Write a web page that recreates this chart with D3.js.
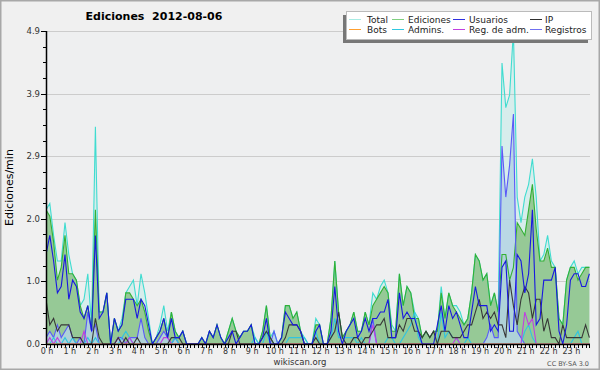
<!DOCTYPE html>
<html>
<head>
<meta charset="utf-8">
<script src="https://cdn.jsdelivr.net/npm/d3@7"></script>
<style>
  body { margin: 0; background: #fff; }
  text { font-family: "DejaVu Sans", sans-serif; }
</style>
</head>
<body>
<div id="chart"></div>
<script>
// edits per minute, one value every 10 minutes (144 per day)
var total = [
  2.1, 2.2, 1.7, 1.3, 1.3, 1.9,  1.4, 1.1, 1.0, 0.6, 0.7, 1.1,
  0.3, 3.4, 0.5, 0.5, 0.8, 0.0,  0.4, 0.2, 0.4, 0.8, 0.9, 1.0,
  0.6, 1.1, 0.8, 0.4, 0.0, 0.1,  0.3, 0.6, 0.2, 0.5, 0.2, 0.1,
  0.2, 0.0, 0.0, 0.0, 0.0, 0.1,  0.0, 0.2, 0.1, 0.3, 0.1, 0.0,
  0.2, 0.4, 0.2, 0.1, 0.2, 0.2,  0.3, 0.1, 0.0, 0.2, 0.6, 0.1,
  0.2, 0.0, 0.1, 0.6, 0.6, 0.4,  0.5, 0.2, 0.1, 0.0, 0.0, 0.4,
  0.3, 0.0, 0.0, 0.4, 1.3, 0.5,  0.1, 0.2, 0.3, 0.5, 0.2, 0.2,
  0.5, 0.3, 0.8, 0.7, 0.9, 1.0,  0.8, 0.3, 0.2, 1.1, 0.6, 0.9,
  0.8, 0.5, 0.4, 0.1, 0.2, 0.1,  0.2, 0.2, 0.9, 0.4, 0.8, 0.6,
  0.6, 0.5, 0.3, 0.4, 0.8, 1.4,  1.3, 1.0, 1.1, 0.6, 0.8, 0.5,
  4.4, 3.7, 3.9, 4.9, 2.3, 1.9,  2.3, 2.5, 2.9, 2.3, 1.3, 1.4,
  1.7, 1.3, 1.2, 0.4, 0.3, 1.0,  1.2, 1.3, 1.1, 1.2, 1.2, 1.2
];
var ediciones = [
  2.1, 2.0, 1.6, 1.0, 1.2, 1.7,  1.1, 1.1, 1.0, 0.6, 0.4, 0.6,
  0.2, 2.1, 0.5, 0.5, 0.8, 0.0,  0.4, 0.2, 0.3, 0.8, 0.8, 0.7,
  0.6, 0.7, 0.5, 0.2, 0.0, 0.1,  0.2, 0.4, 0.1, 0.5, 0.2, 0.1,
  0.2, 0.0, 0.0, 0.0, 0.0, 0.1,  0.0, 0.2, 0.1, 0.3, 0.1, 0.0,
  0.2, 0.4, 0.2, 0.1, 0.2, 0.2,  0.3, 0.0, 0.0, 0.2, 0.6, 0.1,
  0.0, 0.0, 0.1, 0.6, 0.6, 0.4,  0.5, 0.2, 0.0, 0.0, 0.0, 0.3,
  0.3, 0.0, 0.0, 0.4, 1.3, 0.5,  0.1, 0.2, 0.3, 0.5, 0.2, 0.2,
  0.5, 0.3, 0.6, 0.7, 0.8, 0.9,  0.8, 0.2, 0.2, 1.1, 0.6, 0.9,
  0.8, 0.4, 0.4, 0.1, 0.2, 0.1,  0.2, 0.2, 0.8, 0.4, 0.8, 0.6,
  0.5, 0.4, 0.3, 0.4, 0.8, 1.4,  1.3, 1.0, 1.1, 0.6, 0.8, 0.5,
  1.4, 1.4, 1.0, 1.2, 1.9, 1.8,  1.7, 2.1, 2.5, 1.8, 1.3, 1.3,
  1.5, 1.2, 1.2, 0.4, 0.3, 1.0,  1.2, 1.2, 1.0, 1.1, 1.2, 1.2
];
var usuarios = [
  1.4, 1.7, 1.3, 0.8, 0.9, 1.4,  0.7, 1.0, 0.9, 0.5, 0.4, 0.6,
  0.2, 1.7, 0.4, 0.5, 0.8, 0.0,  0.4, 0.2, 0.3, 0.7, 0.7, 0.7,
  0.4, 0.7, 0.6, 0.3, 0.0, 0.1,  0.2, 0.4, 0.1, 0.4, 0.1, 0.1,
  0.2, 0.0, 0.0, 0.0, 0.0, 0.1,  0.0, 0.2, 0.1, 0.3, 0.1, 0.0,
  0.1, 0.2, 0.0, 0.1, 0.2, 0.2,  0.3, 0.0, 0.0, 0.1, 0.4, 0.0,
  0.0, 0.0, 0.1, 0.5, 0.4, 0.3,  0.3, 0.2, 0.0, 0.0, 0.0, 0.2,
  0.3, 0.0, 0.0, 0.2, 0.9, 0.2,  0.0, 0.2, 0.3, 0.4, 0.1, 0.2,
  0.4, 0.2, 0.4, 0.4, 0.5, 0.5,  0.7, 0.1, 0.1, 0.8, 0.4, 0.5,
  0.4, 0.4, 0.2, 0.0, 0.0, 0.0,  0.0, 0.3, 0.6, 0.2, 0.6, 0.4,
  0.5, 0.3, 0.1, 0.1, 0.5, 0.9,  0.6, 0.6, 0.6, 0.2, 0.3, 0.2,
  1.2, 1.3, 0.2, 0.2, 1.4, 1.3,  0.8, 1.1, 2.1, 0.3, 0.4, 1.0,
  1.0, 1.0, 1.2, 0.2, 0.0, 0.3,  1.0, 1.1, 1.1, 0.9, 0.9, 1.1
];
var ip = [
  0.7, 0.3, 0.4, 0.2, 0.3, 0.3,  0.3, 0.1, 0.1, 0.1, 0.0, 0.0,
  0.0, 0.4, 0.1, 0.0, 0.0, 0.0,  0.0, 0.1, 0.0, 0.1, 0.0, 0.0,
  0.1, 0.0, 0.0, 0.0, 0.0, 0.0,  0.0, 0.0, 0.0, 0.1, 0.1, 0.1,
  0.0, 0.0, 0.0, 0.0, 0.0, 0.0,  0.0, 0.0, 0.0, 0.0, 0.0, 0.0,
  0.0, 0.2, 0.2, 0.0, 0.0, 0.0,  0.0, 0.0, 0.0, 0.1, 0.2, 0.1,
  0.0, 0.0, 0.0, 0.1, 0.3, 0.3,  0.3, 0.2, 0.0, 0.0, 0.0, 0.1,
  0.0, 0.0, 0.0, 0.1, 0.2, 0.5,  0.1, 0.0, 0.0, 0.1, 0.1, 0.0,
  0.1, 0.1, 0.2, 0.3, 0.3, 0.4,  0.1, 0.1, 0.1, 0.3, 0.2, 0.4,
  0.4, 0.2, 0.2, 0.1, 0.2, 0.1,  0.2, 0.0, 0.2, 0.2, 0.2, 0.1,
  0.1, 0.1, 0.2, 0.3, 0.3, 0.5,  0.7, 0.4, 0.5, 0.4, 0.5, 0.3,
  0.3, 0.1, 1.0, 0.6, 0.3, 0.7,  0.9, 0.8, 0.4, 0.7, 0.7, 0.2,
  0.4, 0.1, 0.1, 0.0, 0.3, 0.1,  0.1, 0.1, 0.1, 0.1, 0.3, 0.1
];
var registros = [
  0.1, 0.2, 0.1, 0.3, 0.1, 0.2,  0.3, 0.1, 0.0, 0.1, 0.0, 0.5,
  0.2, 0.3, 0.0, 0.0, 0.0, 0.0,  0.0, 0.1, 0.1, 0.0, 0.1, 0.1,
  0.1, 0.4, 0.1, 0.0, 0.0, 0.0,  0.1, 0.2, 0.1, 0.0, 0.1, 0.0,
  0.0, 0.0, 0.0, 0.0, 0.0, 0.0,  0.0, 0.0, 0.0, 0.0, 0.0, 0.0,
  0.0, 0.0, 0.0, 0.0, 0.0, 0.0,  0.0, 0.0, 0.0, 0.0, 0.0, 0.0,
  0.2, 0.0, 0.0, 0.0, 0.0, 0.0,  0.0, 0.0, 0.0, 0.0, 0.0, 0.0,
  0.0, 0.0, 0.0, 0.0, 0.0, 0.0,  0.0, 0.0, 0.0, 0.0, 0.0, 0.0,
  0.0, 0.0, 0.4, 0.0, 0.0, 0.0,  0.0, 0.0, 0.0, 0.0, 0.0, 0.0,
  0.0, 0.0, 0.0, 0.0, 0.0, 0.0,  0.0, 0.0, 0.0, 0.0, 0.0, 0.0,
  0.0, 0.0, 0.0, 0.0, 0.0, 0.0,  0.0, 0.0, 0.1, 0.3, 0.1, 0.1,
  3.1, 2.3, 2.8, 3.6, 0.2, 0.1,  0.0, 0.0, 0.0, 0.0, 0.0, 0.0,
  0.0, 0.0, 0.0, 0.0, 0.0, 0.0,  0.0, 0.0, 0.0, 0.0, 0.0, 0.0
];
var admins = [
  0.0, 0.0, 0.1, 0.0, 0.0, 0.1,  0.0, 0.1, 0.0, 0.0, 0.0, 0.1,
  0.0, 0.1, 0.0, 0.0, 0.0, 0.0,  0.0, 0.0, 0.1, 0.2, 0.1, 0.0,
  0.0, 0.0, 0.0, 0.0, 0.0, 0.0,  0.0, 0.0, 0.0, 0.0, 0.1, 0.0,
  0.0, 0.0, 0.0, 0.0, 0.0, 0.0,  0.0, 0.0, 0.0, 0.0, 0.0, 0.0,
  0.0, 0.0, 0.0, 0.0, 0.0, 0.0,  0.0, 0.1, 0.0, 0.0, 0.2, 0.0,
  0.0, 0.0, 0.0, 0.0, 0.1, 0.1,  0.1, 0.1, 0.1, 0.0, 0.0, 0.2,
  0.0, 0.0, 0.0, 0.1, 0.4, 0.1,  0.1, 0.1, 0.1, 0.1, 0.0, 0.1,
  0.0, 0.0, 0.0, 0.0, 0.0, 0.0,  0.1, 0.1, 0.0, 0.0, 0.1, 0.2,
  0.3, 0.5, 0.1, 0.0, 0.0, 0.0,  0.0, 0.0, 0.5, 0.1, 0.2, 0.1,
  0.1, 0.0, 0.0, 0.1, 0.0, 0.0,  0.0, 0.0, 0.0, 0.0, 0.0, 0.0,
  0.0, 0.0, 0.0, 0.0, 0.0, 0.0,  0.2, 0.3, 0.1, 0.0, 0.0, 0.0,
  0.0, 0.0, 0.0, 0.0, 0.0, 0.0,  0.0, 0.1, 0.2, 0.0, 0.0, 0.0
];
var regAdm = [
  0.0, 0.1, 0.0, 0.1, 0.0, 0.0,  0.0, 0.0, 0.0, 0.0, 0.2, 0.0,
  0.0, 0.0, 0.0, 0.0, 0.0, 0.0,  0.0, 0.1, 0.0, 0.0, 0.1, 0.0,
  0.0, 0.0, 0.0, 0.0, 0.0, 0.0,  0.0, 0.1, 0.1, 0.0, 0.0, 0.0,
  0.0, 0.0, 0.0, 0.0, 0.0, 0.0,  0.0, 0.0, 0.0, 0.0, 0.0, 0.0,
  0.0, 0.0, 0.0, 0.0, 0.0, 0.0,  0.0, 0.0, 0.0, 0.0, 0.0, 0.0,
  0.0, 0.0, 0.0, 0.0, 0.0, 0.0,  0.0, 0.0, 0.0, 0.0, 0.0, 0.0,
  0.0, 0.0, 0.0, 0.0, 0.0, 0.0,  0.0, 0.0, 0.0, 0.0, 0.0, 0.0,
  0.0, 0.0, 0.3, 0.0, 0.0, 0.0,  0.0, 0.0, 0.0, 0.0, 0.0, 0.0,
  0.0, 0.0, 0.0, 0.0, 0.0, 0.0,  0.0, 0.0, 0.0, 0.0, 0.0, 0.0,
  0.1, 0.0, 0.0, 0.0, 0.0, 0.0,  0.0, 0.0, 0.0, 0.0, 0.0, 0.0,
  0.0, 0.0, 0.0, 0.0, 0.0, 0.0,  0.5, 0.3, 0.4, 0.0, 0.0, 0.0,
  0.0, 0.0, 0.0, 0.0, 0.0, 0.0,  0.0, 0.0, 0.0, 0.0, 0.0, 0.0
];
var bots = d3.range(144).map(function () { return 0; }); // flat all day

var hourLabels = ["0 h", "1 h", "2 h", "3 h", "4 h", "5 h", "6 h", "7 h", "8 h", "9 h", "10 h", "11 h",
  "12 h", "13 h", "14 h", "15 h", "16 h", "17 h", "18 h", "19 h", "20 h", "21 h", "22 h", "23 h"];
var yMax = 4.9;

var width = 600, height = 370;
var pLeft = 46, pRight = 590, pTop = 31, pBottom = 344;

var svg = d3.select("#chart")
    .append("svg")
    .attr("width", width)
    .attr("height", height);

// frame
svg.append("rect")
    .attr("x", 0.75).attr("y", 0.75)
    .attr("width", width - 1.5).attr("height", height - 1.5)
    .style("fill", "#f0f0f0")
    .style("stroke", "#a8a8a8")
    .style("stroke-width", 1.5);

svg.append("rect")
    .attr("x", pLeft).attr("y", pTop)
    .attr("width", pRight - pLeft).attr("height", pBottom - pTop)
    .style("fill", "#eeeff0");

var x = d3.scaleLinear().domain([0, 143]).range([pLeft, pLeft + 143 * 3.8]);
var y = d3.scaleLinear().domain([0, yMax]).range([pBottom, pTop]);

var majors = d3.range(6).map(function (k) { return yMax * k / 5; });
var minors = d3.range(21).map(function (k) { return yMax * k / 20; });

// grid
svg.append("g").selectAll("line")
    .data(majors.slice(1))
    .enter().append("line")
    .attr("x1", pLeft).attr("x2", pRight)
    .attr("y1", function (d) { return Math.round(y(d)) + 0.5; })
    .attr("y2", function (d) { return Math.round(y(d)) + 0.5; })
    .style("stroke", "#cccccc");

svg.append("defs").append("clipPath").attr("id", "plot")
    .append("rect").attr("x", pLeft).attr("y", pTop - 1)
    .attr("width", pRight - pLeft).attr("height", pBottom - pTop + 1);

var plot = svg.append("g").attr("clip-path", "url(#plot)");

function area(data) {
    return d3.area()
        .x(function (d, i) { return x(i); })
        .y0(pBottom)
        .y1(function (d) { return y(d); })(data);
}
function line(data) {
    return d3.line()
        .x(function (d, i) { return x(i); })
        .y(function (d) { return y(d); })(data);
}

// filled series
plot.append("path").attr("d", area(total)).style("fill", "rgba(64,224,208,0.13)");
plot.append("path").attr("d", area(ediciones)).style("fill", "rgb(150,201,150)");
plot.append("path").attr("d", area(registros)).style("fill", "rgba(180,212,228,0.85)");

var series = [
    { data: total, color: "#40dcd0" },
    { data: ediciones, color: "#34b034" },
    { data: registros, color: "#5a5af8" },
    { data: admins, color: "#30c4e0" },
    { data: regAdm, color: "#c040e0" },
    { data: bots, color: "#ffa030" },
    { data: ip, color: "#383838" },
    { data: usuarios, color: "#1818e0" }
];

series.forEach(function (s) {
    plot.append("path")
        .attr("d", line(s.data))
        .style("fill", "none")
        .style("stroke", s.color)
        .style("stroke-width", 1.1);
});

// y axis
var yAxis = svg.append("g");
yAxis.append("line")
    .attr("x1", pLeft + 0.5).attr("x2", pLeft + 0.5)
    .attr("y1", pTop).attr("y2", pBottom + 1)
    .style("stroke", "#000").style("stroke-width", 1.5);
yAxis.selectAll(".minor")
    .data(minors)
    .enter().append("line")
    .attr("x1", function (d, i) { return i % 4 == 0 ? pLeft - 5 : pLeft - 3; })
    .attr("x2", pLeft)
    .attr("y1", function (d) { return Math.round(y(d)) + 0.5; })
    .attr("y2", function (d) { return Math.round(y(d)) + 0.5; })
    .style("stroke", "#000");
yAxis.selectAll("text")
    .data(majors)
    .enter().append("text")
    .attr("x", pLeft - 6)
    .attr("y", function (d) { return y(d) + 3; })
    .attr("text-anchor", "end")
    .style("font-size", "8.5px")
    .style("fill", "#333")
    .text(function (d) { return d.toFixed(1); });

svg.append("text")
    .attr("transform", "translate(13," + (pTop + pBottom) / 2 + ") rotate(-90)")
    .attr("text-anchor", "middle")
    .style("font-size", "11px")
    .text("Ediciones/min");

// x axis
var xAxis = svg.append("g");
xAxis.append("line")
    .attr("x1", pLeft).attr("x2", pRight)
    .attr("y1", pBottom + 0.5).attr("y2", pBottom + 0.5)
    .style("stroke", "#000").style("stroke-width", 1.5);
xAxis.selectAll(".tick")
    .data(d3.range(144))
    .enter().append("line")
    .attr("x1", function (d) { return Math.round(x(d)) + 0.5; })
    .attr("x2", function (d) { return Math.round(x(d)) + 0.5; })
    .attr("y1", pBottom).attr("y2", pBottom + 4)
    .style("stroke", "#000");
xAxis.selectAll("text")
    .data(hourLabels)
    .enter().append("text")
    .attr("x", function (d, i) { return x(i * 6) + 1; })
    .attr("y", pBottom + 10)
    .attr("text-anchor", "middle")
    .style("font-size", "8px")
    .style("fill", "#333")
    .text(function (d) { return d; });

// title
svg.append("text")
    .attr("x", 154).attr("y", 20)
    .attr("text-anchor", "middle")
    .style("font-size", "11px")
    .style("font-weight", "bold")
    .style("white-space", "pre")
    .text("Ediciones  2012-08-06");

svg.append("text")
    .attr("x", 300).attr("y", 365)
    .attr("text-anchor", "middle")
    .style("font-size", "8.5px")
    .style("fill", "#333")
    .text("wikiscan.org");

svg.append("text")
    .attr("x", 589).attr("y", 366)
    .attr("text-anchor", "end")
    .style("font-size", "6.5px")
    .style("fill", "#555")
    .text("CC BY-SA 3.0");

// legend
var legendNames = ["Total", "Ediciones", "Usuarios", "IP", "Bots", "Admins.", "Reg. de adm.", "Registros"];
var legendColors = ["#a8ece4", "#80d080", "#3030e0", "#303030", "#ffa030", "#30c8e0", "#c040e0", "#7070f0"];
var lineX = [349, 392, 453, 530];
var textX = [367, 408, 469, 545];

var legend = svg.append("g");
legend.append("rect")
    .attr("x", 343).attr("y", 15).attr("width", 245).attr("height", 28)
    .style("fill", "#777");
legend.append("rect")
    .attr("x", 346.5).attr("y", 11.5).attr("width", 245).attr("height", 28)
    .style("fill", "#fff").style("stroke", "#bbb");

legendNames.forEach(function (name, k) {
    var cy = k < 4 ? 19 : 29;
    legend.append("line")
        .attr("x1", lineX[k % 4]).attr("x2", lineX[k % 4] + 12)
        .attr("y1", cy + 0.5).attr("y2", cy + 0.5)
        .style("stroke", legendColors[k]);
    legend.append("text")
        .attr("x", textX[k % 4]).attr("y", cy + 4)
        .style("font-size", "9px")
        .style("fill", "#222")
        .text(name);
});
</script>
</body>
</html>
